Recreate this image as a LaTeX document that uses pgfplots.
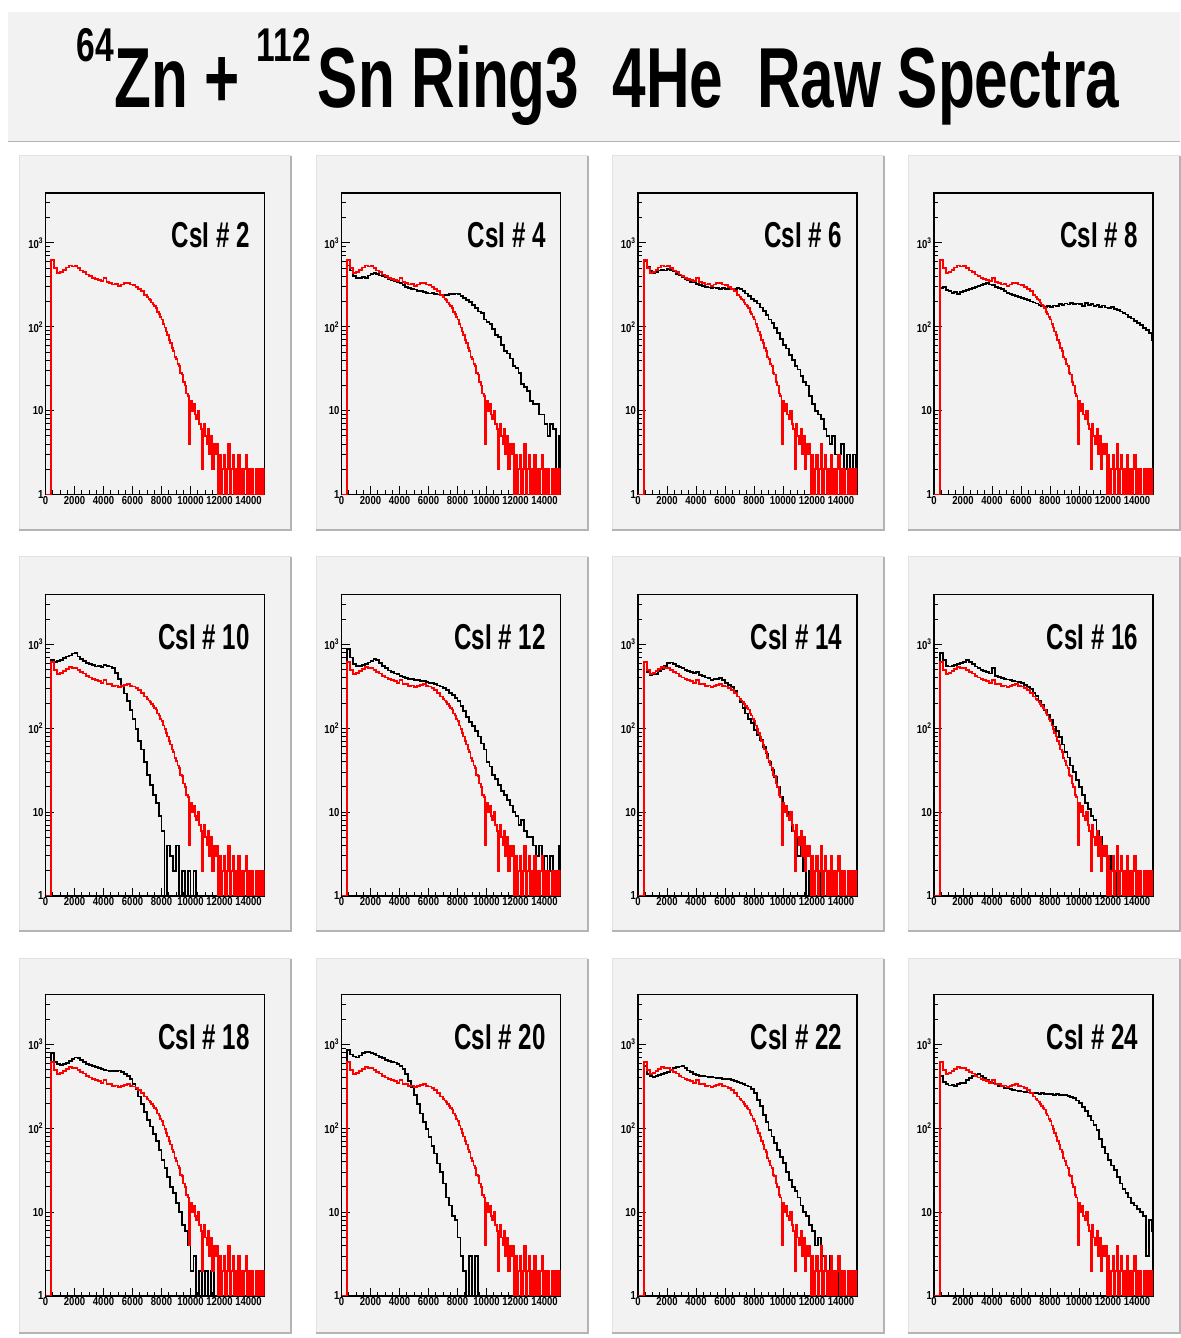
\documentclass[border=0pt]{standalone}
\usepackage{pgfplots}
\pgfplotsset{compat=1.18}
\usepackage{pgfplotstable}
\usepackage{graphicx}
\usepackage{fontspec}
\setmainfont{Liberation Sans}
\definecolor{padgray}{HTML}{F2F2F2}
\definecolor{shadowgray}{HTML}{B4B4B4}
\definecolor{litegray}{HTML}{E2E2E2}

% reference spectrum (red), bin left edges
\pgfplotstableread{
x r
0 1
200 1
400 620
600 500
800 440
1000 455
1200 480
1400 510
1600 540
1800 525
2000 530
2200 500
2400 470
2600 450
2800 420
3000 405
3200 385
3400 375
3600 365
3800 350
4000 380
4200 340
4400 335
4600 320
4800 325
5000 310
5200 320
5400 330
5600 335
5800 320
6000 315
6200 300
6400 285
6600 265
6800 240
7000 225
7100 215
7200 208
7300 195
7400 185
7500 176
7600 168
7700 150
7800 142
7900 130
8000 122
8100 108
8200 98
8300 88
8400 80
8500 70
8600 64
8700 56
8800 52
8900 44
9000 41
9100 36
9200 34
9300 28
9400 27
9500 22
9600 20
9700 16
9800 15
9900 4
10000 13
10100 10
10200 12
10300 9
10400 8
10500 10
10600 7
10700 6
10800 2
10900 7
11000 5
11100 4
11200 6
11300 3
11400 5
11500 2
11600 4
11700 3
11800 4
11900 1
12000 3
12100 1
12200 2
12300 3
12400 1
12500 2
12600 4
12700 1
12800 2
12900 3
13000 1
13100 2
13200 1
13300 3
13400 1
13500 2
13600 1
13700 2
13800 3
13900 1
14000 2
14100 1
14200 2
14300 1
14400 1
14500 2
14600 1
14700 2
14800 1
14900 2
15000 1
15100 2
15200 2
}\redtab

% CsI #N spectra (black), bin left edges
\pgfplotstableread{
x b4 b6 b8 b10 b12 b14 b16 b18 b20 b22 b24
0 1 1 1 1 1 1 1 1 1 1 1
200 1 1 1 1 1 1 1 1 1 1 1
400 540 600 290 650 880 620 800 800 860 560 420
600 470 520 300 620 700 470 650 620 760 440 360
800 400 460 275 640 580 430 560 580 720 420 335
1000 385 440 265 660 555 440 545 570 700 410 325
1200 380 450 255 690 560 445 560 580 740 420 330
1400 395 470 262 720 575 480 575 600 790 430 320
1600 385 480 248 740 590 510 590 630 810 440 335
1800 410 470 258 780 610 560 600 670 820 460 345
2000 430 490 265 800 640 600 620 700 790 475 350
2200 440 480 272 720 665 610 650 690 770 500 380
2400 425 460 280 670 650 580 620 650 740 520 400
2600 410 430 292 630 600 560 580 620 710 535 420
2800 400 410 300 600 560 540 545 590 690 545 430
3000 390 395 310 580 520 520 525 570 660 550 440
3200 375 370 318 565 490 495 500 555 640 520 420
3400 360 360 325 545 470 480 480 535 620 490 400
3600 350 345 332 560 450 465 465 525 610 465 380
3800 340 340 320 540 440 455 450 510 585 445 360
4000 330 325 315 575 420 470 520 500 560 435 345
4200 315 315 300 560 410 430 425 490 510 425 335
4400 300 305 292 545 395 420 410 480 440 420 320
4600 290 300 280 520 390 405 400 485 370 415 315
4800 285 295 265 460 385 395 390 478 310 410 305
5000 278 290 255 390 380 380 382 490 250 410 300
5200 270 295 248 320 375 385 375 470 195 405 292
5400 265 290 240 260 370 390 370 440 150 400 288
5600 262 285 235 210 365 400 362 420 120 395 282
5800 255 290 228 165 355 380 355 385 98 390 278
6000 250 285 222 128 350 350 345 340 78 390 275
6200 252 280 215 98 345 330 330 290 62 385 272
6400 246 285 208 70 335 310 312 240 50 375 268
6600 243 282 200 56 325 280 292 195 38 365 265
6800 240 290 195 40 315 240 265 155 30 358 262
7000 238 280 190 28 300 205 245 125 22 350 262
7200 242 265 184 21 285 175 215 105 15 340 258
7400 245 250 178 16 265 150 190 85 12 325 262
7600 248 235 172 13 250 130 165 70 9 316 255
7800 250 215 176 9 232 115 145 55 8 295 258
8000 245 205 174 6 210 95 125 42 5 263 257
8200 235 190 180 1 185 84 105 34 3 220 252
8400 222 170 178 4 160 72 92 26 2 183 255
8600 210 155 186 3 138 60 78 20 1 145 250
8800 196 138 182 2 120 50 64 17 3 118 252
9000 183 122 190 4 106 40 52 13 1 96 250
9200 168 110 185 1 92 32 45 10 3 80 245
9400 152 96 194 2 80 26 36 7 1 67 238
9600 145 84 186 1 66 20 30 6 1 55 230
9800 122 72 190 2 56 15 24 4 1 46 215
10000 115 61 188 1 40 12 20 2 1 39 200
10200 108 55 178 2 35 10 16 3 1 30 180
10400 95 46 192 1 28 8 13 1 1 24 160
10600 80 40 182 1 25 6 11 2 1 20 140
10800 75 34 186 1 21 5 9 1 1 18 124
11000 61 31 178 1 18 3 8 2 1 15 110
11200 52 26 182 1 16 4 6 1 1 12 96
11400 48 22 174 1 14 2 5 2 1 10 75
11600 42 20 180 1 12 1 4 1 1 9 60
11800 34 15 170 1 10 2 3 1 1 7 50
12000 32 12 168 1 9 1 3 1 1 6 42
12200 28 10 172 1 7 1 2 1 1 4 36
12400 21 9 162 1 8 1 1 1 1 5 32
12600 19 8 160 1 6 2 2 1 1 3 26
12800 17 6 152 1 5 1 1 1 1 3 22
13000 13 5 146 1 5 1 1 1 1 2 19
13200 12 4 140 1 4 1 1 1 1 3 17
13400 12 5 132 1 3 1 1 1 1 1 15
13600 9 3 126 1 4 1 1 1 1 2 13
13800 9 3 118 1 2 1 1 1 1 1 12
14000 7 4 110 1 3 1 1 1 1 1 11
14200 5 2 104 1 2 1 1 1 1 1 10
14400 7 3 96 1 3 1 1 1 1 1 9
14600 6 1 92 1 1 1 1 1 1 1 3
14800 2 3 84 1 2 1 1 1 1 1 8
15000 5 2 70 1 4 1 1 1 1 1 6
15200 5 2 60 1 4 1 1 1 1 1 6
}\spectra

\newcommand{\tl}[1]{\scalebox{0.82}[1]{\fontsize{5.8}{6}\selectfont\bfseries #1}}
\newcommand{\lab}[1]{\scalebox{0.67}[1]{\fontsize{18}{18}\selectfont\bfseries CsI \# #1}}

% #1,#2: position (pt); #3: column; #4: detector number; #5: table of the black curve
\newcommand{\panel}[5]{%
\begin{axis}[
    at={(#1pt,#2pt)}, anchor=south west,
    scale only axis, width=109.5pt, height=150.75pt,
    ymode=log,
    xmin=0, xmax=15100, ymin=1, ymax=3950,
    axis line style={black, line width=0.75pt},
    scaled x ticks=false,
    xtick={0,2000,4000,6000,8000,10000,12000,14000},
    xticklabels={\tl{0},\tl{2000},\tl{4000},\tl{6000},\tl{8000},\tl{10000},\tl{12000},\tl{14000}},
    minor x tick num=3,
    ytick={1,10,100,1000},
    yticklabels={\tl{1},\tl{10},\tl{10\textsuperscript{2}},\tl{10\textsuperscript{3}}},
    minor ytick={2,3,4,5,6,7,8,9,20,30,40,50,60,70,80,90,200,300,400,500,600,700,800,900,2000,3000},
    tick align=inside, xtick pos=bottom, ytick pos=left,
    major tick length=4pt, minor tick length=2pt,
    every tick/.style={black, line width=0.5pt},
    xticklabel style={inner sep=0.6pt, anchor=north},
    yticklabel style={inner sep=0.8pt, anchor=east},
  ]
\addplot[black, line width=0.9pt, const plot, mark=none] table[x=x,y=#3]{#5};
\addplot[red, line width=0.9pt, const plot, mark=none] table[x=x,y=r]{\redtab};
\node[anchor=base east, inner sep=0pt] at (rel axis cs:0.934,0.818) {\lab{#4}};
\end{axis}}

\begin{document}
\begin{tikzpicture}
\useasboundingbox (0,0) rectangle (590pt,669pt);
\fill[white] (0,0) rectangle (590pt,669pt);
\fill[padgray] (4pt,598pt) rectangle (590pt,663pt);
\draw[shadowgray, line width=0.6pt] (4pt,598.3pt) -- (590pt,598.3pt);
\foreach \px in {9.5,158,306,454}{
  \foreach \py in {2.5,203.5,404}{
    \fill[padgray] (\px*1pt,\py*1pt) rectangle ++(136pt,187pt);
    \draw[litegray, line width=0.5pt] (\px*1pt,\py*1pt) -- ++(0,187pt) -- ++(136pt,0);
    \draw[shadowgray, line width=0.6pt] (\px*1pt,\py*1pt) -- ++(136pt,0) -- ++(0,187pt);
  }
}
\node[anchor=base, inner sep=0pt] at (299pt,615pt) {\scalebox{0.708}[1]{\fontsize{42.6}{44}\selectfont\bfseries\raisebox{23pt}{\fontsize{23.7}{24}\selectfont 64}Zn + \raisebox{23pt}{\fontsize{23.7}{24}\selectfont 112}\hspace{0.12em}Sn Ring3\ \ 4He\ \ Raw Spectra}};

\panel{22.75}{421.75}{r}{2}{\redtab}
\panel{170.75}{421.75}{b4}{4}{\spectra}
\panel{319}{421.75}{b6}{6}{\spectra}
\panel{467}{421.75}{b8}{8}{\spectra}
\panel{22.75}{221}{b10}{10}{\spectra}
\panel{170.75}{221}{b12}{12}{\spectra}
\panel{319}{221}{b14}{14}{\spectra}
\panel{467}{221}{b16}{16}{\spectra}
\panel{22.75}{21}{b18}{18}{\spectra}
\panel{170.75}{21}{b20}{20}{\spectra}
\panel{319}{21}{b22}{22}{\spectra}
\panel{467}{21}{b24}{24}{\spectra}
\end{tikzpicture}
\end{document}
